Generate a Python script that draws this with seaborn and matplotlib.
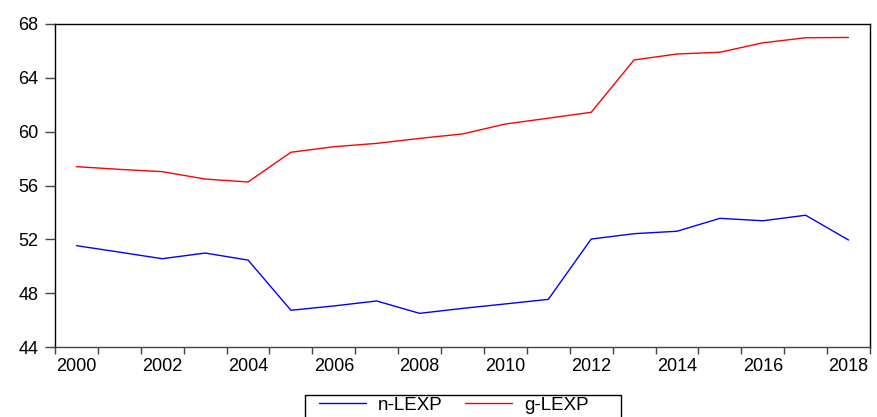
import pandas as pd
import numpy as np
import matplotlib
matplotlib.use("Agg")
import matplotlib.pyplot as plt
import seaborn as sns

years = list(range(2000, 2019))
n_lexp = [51.53, 51.05, 50.56, 50.98, 50.46, 46.73, 47.05, 47.42, 46.50, 46.87,
          47.20, 47.54, 52.02, 52.42, 52.60, 53.56, 53.38, 53.79, 51.95]
g_lexp = [57.40, 57.20, 57.03, 56.48, 56.26, 58.47, 58.88, 59.13, 59.50, 59.83,
          60.57, 61.00, 61.44, 65.33, 65.77, 65.90, 66.60, 66.98, 67.00]

df = pd.DataFrame({"Year": years * 2,
                   "Value": n_lexp + g_lexp,
                   "Series": ["n-LEXP"] * len(years) + ["g-LEXP"] * len(years)})

sns.set_style("white")
plt.rcParams['font.family'] = ['Liberation Sans', 'DejaVu Sans']
plt.rcParams['text.color'] = 'black'

fig = plt.figure(figsize=(8.77, 4.17), dpi=100)
ax = fig.add_axes([55/877, 1-347/417, (870-55)/877, (347-24)/417])

sns.lineplot(data=df, x="Year", y="Value", hue="Series",
             palette={"n-LEXP": "#0000ff", "g-LEXP": "#ff0000"},
             linewidth=1.0, ax=ax, legend=False)

ax.set_xlim(1999.5, 2018.5)
ax.set_ylim(44, 68)
ax.set_yticks(np.arange(44, 69, 4))
ax.set_xlabel("")
ax.set_ylabel("")

# ticks at year boundaries, labels centred on even years
ax.set_xticks(np.arange(1999.5, 2018.6, 1))
ax.set_xticklabels([])
ax.set_xticks(years[::2], minor=True)
ax.set_xticklabels([str(y) for y in years[::2]], minor=True)
ax.tick_params(axis="x", which="major", direction="out", length=5, width=1, color="#444444", bottom=True)
ax.tick_params(axis="x", which="minor", length=0, pad=8, labelsize=13, labelcolor="black")
ax.tick_params(axis="y", direction="out", length=7, width=1, color="#444444", left=True,
               labelsize=13, pad=5, labelcolor="black")

for side in ["top", "right", "left", "bottom"]:
    ax.spines[side].set_color("black")
    ax.spines[side].set_linewidth(1.0)
ax.spines["bottom"].set_color("#444444")

# legend box (frame drawn separately, runs off the bottom edge)
fig.patches.append(plt.Rectangle((305/877, -0.05), (621-305)/877, 0.05 + (417-395)/417,
                                 transform=fig.transFigure, fill=False,
                                 edgecolor="black", linewidth=1.0))
handles = [plt.Line2D([], [], color="#0000ff", lw=1.0),
           plt.Line2D([], [], color="#ff0000", lw=1.0)]
leg = fig.legend(handles, ["n-LEXP", "g-LEXP"], loc="center left",
                 bbox_to_anchor=(319/877, 1-405/417), ncol=2, frameon=False,
                 fontsize=13.5, handlelength=2.5, columnspacing=1.2,
                 borderpad=0, borderaxespad=0, handletextpad=0.65)

fig.savefig("out.png", dpi=100)
